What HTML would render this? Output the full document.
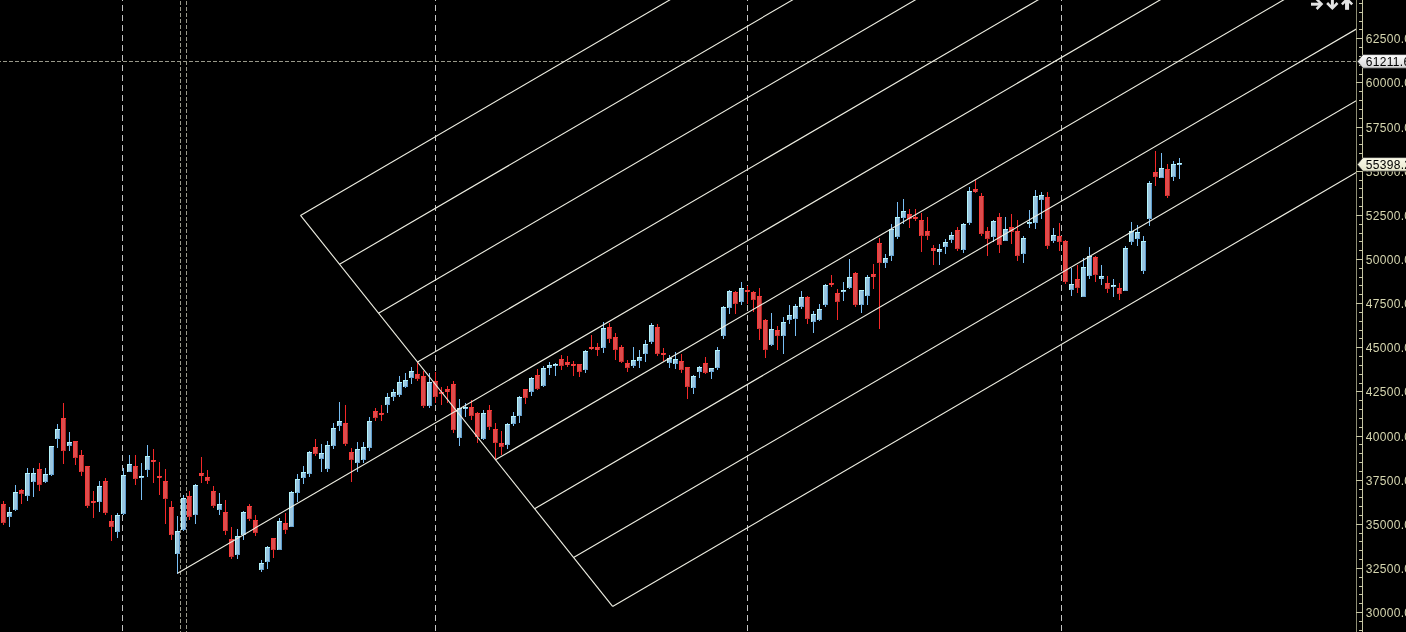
<!DOCTYPE html>
<html><head><meta charset="utf-8"><title>Chart</title>
<style>
html,body{margin:0;padding:0;background:#000;overflow:hidden}
body{width:1406px;height:632px;position:relative;font-family:"Liberation Sans",sans-serif}
svg{position:absolute;left:0;top:0;display:block}
.t{font-family:"Liberation Sans",sans-serif;font-size:12px;letter-spacing:0.326px}
</style></head><body>
<svg width="1406" height="632" viewBox="0 0 1406 632" style="will-change:transform">
<rect width="1406" height="632" fill="#000"/>
<defs><clipPath id="plot"><rect x="0" y="0" width="1356" height="632"/></clipPath>
<linearGradient id="gw" x1="0" y1="0" x2="0" y2="1"><stop offset="0" stop-color="#ffffff"/><stop offset="1" stop-color="#d4d4d4"/></linearGradient>
<linearGradient id="gy" x1="0" y1="0" x2="0" y2="1"><stop offset="0" stop-color="#fbfbea"/><stop offset="1" stop-color="#e6e6cc"/></linearGradient>
</defs>
<g shape-rendering="crispEdges" fill="none">
<line x1="122.5" y1="-5" x2="122.5" y2="632" stroke="#c4c4c4" stroke-width="1" stroke-dasharray="6 4"/>
<line x1="435.5" y1="-5" x2="435.5" y2="632" stroke="#c4c4c4" stroke-width="1" stroke-dasharray="6 4"/>
<line x1="747.5" y1="-5" x2="747.5" y2="632" stroke="#c4c4c4" stroke-width="1" stroke-dasharray="6 4"/>
<line x1="1061.5" y1="-5" x2="1061.5" y2="632" stroke="#c4c4c4" stroke-width="1" stroke-dasharray="6 4"/>
<line x1="180.5" y1="1" x2="180.5" y2="632" stroke="#99998a" stroke-width="1" stroke-dasharray="4 2"/>
<line x1="186.5" y1="1" x2="186.5" y2="632" stroke="#99998a" stroke-width="1" stroke-dasharray="4 2"/>
<line x1="-3" y1="61.5" x2="1356" y2="61.5" stroke="#99998a" stroke-width="1" stroke-dasharray="4 2"/>
</g>
<g shape-rendering="crispEdges">
<rect x="3" y="501" width="1" height="24" fill="#f42828"/><rect x="1" y="504" width="5" height="19" fill="#fa3838"/><rect x="2" y="505" width="4" height="18" fill="#dc4c4c"/><rect x="2" y="522" width="3" height="1" fill="#c43030"/><rect x="5" y="505" width="1" height="18" fill="#b02020"/>
<rect x="9" y="507" width="1" height="20" fill="#78bef4"/><rect x="7" y="512" width="5" height="5" fill="#b4f4fc"/><rect x="8" y="513" width="4" height="4" fill="#9ac6e0"/><rect x="8" y="516" width="3" height="1" fill="#6aa4d0"/><rect x="11" y="513" width="1" height="4" fill="#5c9acc"/>
<rect x="15" y="485" width="1" height="26" fill="#78bef4"/><rect x="13" y="492" width="5" height="18" fill="#b4f4fc"/><rect x="14" y="493" width="4" height="17" fill="#9ac6e0"/><rect x="14" y="509" width="3" height="1" fill="#6aa4d0"/><rect x="17" y="493" width="1" height="17" fill="#5c9acc"/>
<rect x="21" y="489" width="1" height="15" fill="#f42828"/><rect x="19" y="490" width="5" height="4" fill="#fa3838"/><rect x="20" y="491" width="4" height="3" fill="#dc4c4c"/><rect x="20" y="493" width="3" height="1" fill="#c43030"/><rect x="23" y="491" width="1" height="3" fill="#b02020"/>
<rect x="27" y="468" width="1" height="33" fill="#78bef4"/><rect x="25" y="473" width="5" height="23" fill="#b4f4fc"/><rect x="26" y="474" width="4" height="22" fill="#9ac6e0"/><rect x="26" y="495" width="3" height="1" fill="#6aa4d0"/><rect x="29" y="474" width="1" height="22" fill="#5c9acc"/>
<rect x="33" y="468" width="1" height="29" fill="#78bef4"/><rect x="31" y="473" width="5" height="9" fill="#b4f4fc"/><rect x="32" y="474" width="4" height="8" fill="#9ac6e0"/><rect x="32" y="481" width="3" height="1" fill="#6aa4d0"/><rect x="35" y="474" width="1" height="8" fill="#5c9acc"/>
<rect x="39" y="463" width="1" height="28" fill="#f42828"/><rect x="37" y="469" width="5" height="16" fill="#fa3838"/><rect x="38" y="470" width="4" height="15" fill="#dc4c4c"/><rect x="38" y="484" width="3" height="1" fill="#c43030"/><rect x="41" y="470" width="1" height="15" fill="#b02020"/>
<rect x="45" y="468" width="1" height="15" fill="#78bef4"/><rect x="43" y="474" width="5" height="8" fill="#b4f4fc"/><rect x="44" y="475" width="4" height="7" fill="#9ac6e0"/><rect x="44" y="481" width="3" height="1" fill="#6aa4d0"/><rect x="47" y="475" width="1" height="7" fill="#5c9acc"/>
<rect x="51" y="446" width="1" height="30" fill="#78bef4"/><rect x="49" y="446" width="5" height="29" fill="#b4f4fc"/><rect x="50" y="447" width="4" height="28" fill="#9ac6e0"/><rect x="50" y="474" width="3" height="1" fill="#6aa4d0"/><rect x="53" y="447" width="1" height="28" fill="#5c9acc"/>
<rect x="57" y="424" width="1" height="24" fill="#78bef4"/><rect x="55" y="429" width="5" height="10" fill="#b4f4fc"/><rect x="56" y="430" width="4" height="9" fill="#9ac6e0"/><rect x="56" y="438" width="3" height="1" fill="#6aa4d0"/><rect x="59" y="430" width="1" height="9" fill="#5c9acc"/>
<rect x="63" y="403" width="1" height="61" fill="#f42828"/><rect x="61" y="418" width="5" height="33" fill="#fa3838"/><rect x="62" y="419" width="4" height="32" fill="#dc4c4c"/><rect x="62" y="450" width="3" height="1" fill="#c43030"/><rect x="65" y="419" width="1" height="32" fill="#b02020"/>
<rect x="69" y="432" width="1" height="19" fill="#78bef4"/><rect x="67" y="442" width="5" height="4" fill="#b4f4fc"/><rect x="68" y="443" width="4" height="3" fill="#9ac6e0"/><rect x="68" y="445" width="3" height="1" fill="#6aa4d0"/><rect x="71" y="443" width="1" height="3" fill="#5c9acc"/>
<rect x="75" y="441" width="1" height="24" fill="#f42828"/><rect x="73" y="441" width="5" height="17" fill="#fa3838"/><rect x="74" y="442" width="4" height="16" fill="#dc4c4c"/><rect x="74" y="457" width="3" height="1" fill="#c43030"/><rect x="77" y="442" width="1" height="16" fill="#b02020"/>
<rect x="81" y="450" width="1" height="26" fill="#f42828"/><rect x="79" y="455" width="5" height="17" fill="#fa3838"/><rect x="80" y="456" width="4" height="16" fill="#dc4c4c"/><rect x="80" y="471" width="3" height="1" fill="#c43030"/><rect x="83" y="456" width="1" height="16" fill="#b02020"/>
<rect x="87" y="466" width="1" height="42" fill="#f42828"/><rect x="85" y="466" width="5" height="40" fill="#fa3838"/><rect x="86" y="467" width="4" height="39" fill="#dc4c4c"/><rect x="86" y="505" width="3" height="1" fill="#c43030"/><rect x="89" y="467" width="1" height="39" fill="#b02020"/>
<rect x="93" y="491" width="1" height="27" fill="#f42828"/><rect x="91" y="501" width="5" height="2" fill="#fa3838"/><rect x="92" y="502" width="4" height="1" fill="#dc4c4c"/><rect x="95" y="502" width="1" height="1" fill="#b02020"/>
<rect x="99" y="481" width="1" height="31" fill="#78bef4"/><rect x="97" y="486" width="5" height="16" fill="#b4f4fc"/><rect x="98" y="487" width="4" height="15" fill="#9ac6e0"/><rect x="98" y="501" width="3" height="1" fill="#6aa4d0"/><rect x="101" y="487" width="1" height="15" fill="#5c9acc"/>
<rect x="105" y="478" width="1" height="37" fill="#f42828"/><rect x="103" y="481" width="5" height="32" fill="#fa3838"/><rect x="104" y="482" width="4" height="31" fill="#dc4c4c"/><rect x="104" y="512" width="3" height="1" fill="#c43030"/><rect x="107" y="482" width="1" height="31" fill="#b02020"/>
<rect x="111" y="515" width="1" height="26" fill="#f42828"/><rect x="109" y="521" width="5" height="6" fill="#fa3838"/><rect x="110" y="522" width="4" height="5" fill="#dc4c4c"/><rect x="110" y="526" width="3" height="1" fill="#c43030"/><rect x="113" y="522" width="1" height="5" fill="#b02020"/>
<rect x="117" y="513" width="1" height="25" fill="#78bef4"/><rect x="115" y="515" width="5" height="17" fill="#b4f4fc"/><rect x="116" y="516" width="4" height="16" fill="#9ac6e0"/><rect x="116" y="531" width="3" height="1" fill="#6aa4d0"/><rect x="119" y="516" width="1" height="16" fill="#5c9acc"/>
<rect x="123" y="468" width="1" height="47" fill="#78bef4"/><rect x="121" y="475" width="5" height="39" fill="#b4f4fc"/><rect x="122" y="476" width="4" height="38" fill="#9ac6e0"/><rect x="122" y="513" width="3" height="1" fill="#6aa4d0"/><rect x="125" y="476" width="1" height="38" fill="#5c9acc"/>
<rect x="129" y="455" width="1" height="17" fill="#78bef4"/><rect x="127" y="464" width="5" height="8" fill="#b4f4fc"/><rect x="128" y="465" width="4" height="7" fill="#9ac6e0"/><rect x="128" y="471" width="3" height="1" fill="#6aa4d0"/><rect x="131" y="465" width="1" height="7" fill="#5c9acc"/>
<rect x="135" y="455" width="1" height="30" fill="#f42828"/><rect x="133" y="466" width="5" height="13" fill="#fa3838"/><rect x="134" y="467" width="4" height="12" fill="#dc4c4c"/><rect x="134" y="478" width="3" height="1" fill="#c43030"/><rect x="137" y="467" width="1" height="12" fill="#b02020"/>
<rect x="141" y="463" width="1" height="37" fill="#78bef4"/><rect x="139" y="476" width="5" height="2" fill="#b4f4fc"/><rect x="140" y="477" width="4" height="1" fill="#9ac6e0"/><rect x="143" y="477" width="1" height="1" fill="#5c9acc"/>
<rect x="147" y="445" width="1" height="32" fill="#78bef4"/><rect x="145" y="456" width="5" height="14" fill="#b4f4fc"/><rect x="146" y="457" width="4" height="13" fill="#9ac6e0"/><rect x="146" y="469" width="3" height="1" fill="#6aa4d0"/><rect x="149" y="457" width="1" height="13" fill="#5c9acc"/>
<rect x="153" y="449" width="1" height="34" fill="#f42828"/><rect x="151" y="460" width="5" height="2" fill="#fa3838"/><rect x="152" y="461" width="4" height="1" fill="#dc4c4c"/><rect x="155" y="461" width="1" height="1" fill="#b02020"/>
<rect x="159" y="462" width="1" height="33" fill="#f42828"/><rect x="157" y="476" width="5" height="2" fill="#fa3838"/><rect x="158" y="477" width="4" height="1" fill="#dc4c4c"/><rect x="161" y="477" width="1" height="1" fill="#b02020"/>
<rect x="165" y="469" width="1" height="55" fill="#f42828"/><rect x="163" y="481" width="5" height="18" fill="#fa3838"/><rect x="164" y="482" width="4" height="17" fill="#dc4c4c"/><rect x="164" y="498" width="3" height="1" fill="#c43030"/><rect x="167" y="482" width="1" height="17" fill="#b02020"/>
<rect x="171" y="501" width="1" height="39" fill="#f42828"/><rect x="169" y="507" width="5" height="28" fill="#fa3838"/><rect x="170" y="508" width="4" height="27" fill="#dc4c4c"/><rect x="170" y="534" width="3" height="1" fill="#c43030"/><rect x="173" y="508" width="1" height="27" fill="#b02020"/>
<rect x="177" y="516" width="1" height="58" fill="#78bef4"/><rect x="175" y="531" width="5" height="23" fill="#b4f4fc"/><rect x="176" y="532" width="4" height="22" fill="#9ac6e0"/><rect x="176" y="553" width="3" height="1" fill="#6aa4d0"/><rect x="179" y="532" width="1" height="22" fill="#5c9acc"/>
<rect x="183" y="495" width="1" height="36" fill="#78bef4"/><rect x="181" y="498" width="5" height="32" fill="#b4f4fc"/><rect x="182" y="499" width="4" height="31" fill="#9ac6e0"/><rect x="182" y="529" width="3" height="1" fill="#6aa4d0"/><rect x="185" y="499" width="1" height="31" fill="#5c9acc"/>
<rect x="189" y="491" width="1" height="29" fill="#f42828"/><rect x="187" y="496" width="5" height="21" fill="#fa3838"/><rect x="188" y="497" width="4" height="20" fill="#dc4c4c"/><rect x="188" y="516" width="3" height="1" fill="#c43030"/><rect x="191" y="497" width="1" height="20" fill="#b02020"/>
<rect x="195" y="484" width="1" height="40" fill="#78bef4"/><rect x="193" y="485" width="5" height="30" fill="#b4f4fc"/><rect x="194" y="486" width="4" height="29" fill="#9ac6e0"/><rect x="194" y="514" width="3" height="1" fill="#6aa4d0"/><rect x="197" y="486" width="1" height="29" fill="#5c9acc"/>
<rect x="201" y="457" width="1" height="26" fill="#f42828"/><rect x="199" y="473" width="5" height="3" fill="#fa3838"/><rect x="200" y="474" width="4" height="2" fill="#dc4c4c"/><rect x="203" y="474" width="1" height="2" fill="#b02020"/>
<rect x="207" y="470" width="1" height="14" fill="#f42828"/><rect x="205" y="477" width="5" height="4" fill="#fa3838"/><rect x="206" y="478" width="4" height="3" fill="#dc4c4c"/><rect x="206" y="480" width="3" height="1" fill="#c43030"/><rect x="209" y="478" width="1" height="3" fill="#b02020"/>
<rect x="213" y="486" width="1" height="22" fill="#f42828"/><rect x="211" y="491" width="5" height="15" fill="#fa3838"/><rect x="212" y="492" width="4" height="14" fill="#dc4c4c"/><rect x="212" y="505" width="3" height="1" fill="#c43030"/><rect x="215" y="492" width="1" height="14" fill="#b02020"/>
<rect x="219" y="493" width="1" height="22" fill="#78bef4"/><rect x="217" y="504" width="5" height="6" fill="#b4f4fc"/><rect x="218" y="505" width="4" height="5" fill="#9ac6e0"/><rect x="218" y="509" width="3" height="1" fill="#6aa4d0"/><rect x="221" y="505" width="1" height="5" fill="#5c9acc"/>
<rect x="225" y="500" width="1" height="35" fill="#f42828"/><rect x="223" y="512" width="5" height="19" fill="#fa3838"/><rect x="224" y="513" width="4" height="18" fill="#dc4c4c"/><rect x="224" y="530" width="3" height="1" fill="#c43030"/><rect x="227" y="513" width="1" height="18" fill="#b02020"/>
<rect x="231" y="527" width="1" height="32" fill="#f42828"/><rect x="229" y="539" width="5" height="18" fill="#fa3838"/><rect x="230" y="540" width="4" height="17" fill="#dc4c4c"/><rect x="230" y="556" width="3" height="1" fill="#c43030"/><rect x="233" y="540" width="1" height="17" fill="#b02020"/>
<rect x="237" y="529" width="1" height="30" fill="#78bef4"/><rect x="235" y="536" width="5" height="19" fill="#b4f4fc"/><rect x="236" y="537" width="4" height="18" fill="#9ac6e0"/><rect x="236" y="554" width="3" height="1" fill="#6aa4d0"/><rect x="239" y="537" width="1" height="18" fill="#5c9acc"/>
<rect x="243" y="511" width="1" height="29" fill="#78bef4"/><rect x="241" y="512" width="5" height="23" fill="#b4f4fc"/><rect x="242" y="513" width="4" height="22" fill="#9ac6e0"/><rect x="242" y="534" width="3" height="1" fill="#6aa4d0"/><rect x="245" y="513" width="1" height="22" fill="#5c9acc"/>
<rect x="249" y="504" width="1" height="17" fill="#f42828"/><rect x="247" y="506" width="5" height="13" fill="#fa3838"/><rect x="248" y="507" width="4" height="12" fill="#dc4c4c"/><rect x="248" y="518" width="3" height="1" fill="#c43030"/><rect x="251" y="507" width="1" height="12" fill="#b02020"/>
<rect x="255" y="515" width="1" height="21" fill="#f42828"/><rect x="253" y="520" width="5" height="13" fill="#fa3838"/><rect x="254" y="521" width="4" height="12" fill="#dc4c4c"/><rect x="254" y="532" width="3" height="1" fill="#c43030"/><rect x="257" y="521" width="1" height="12" fill="#b02020"/>
<rect x="261" y="560" width="1" height="12" fill="#78bef4"/><rect x="259" y="563" width="5" height="7" fill="#b4f4fc"/><rect x="260" y="564" width="4" height="6" fill="#9ac6e0"/><rect x="260" y="569" width="3" height="1" fill="#6aa4d0"/><rect x="263" y="564" width="1" height="6" fill="#5c9acc"/>
<rect x="267" y="546" width="1" height="23" fill="#78bef4"/><rect x="265" y="547" width="5" height="15" fill="#b4f4fc"/><rect x="266" y="548" width="4" height="14" fill="#9ac6e0"/><rect x="266" y="561" width="3" height="1" fill="#6aa4d0"/><rect x="269" y="548" width="1" height="14" fill="#5c9acc"/>
<rect x="273" y="538" width="1" height="20" fill="#f42828"/><rect x="271" y="538" width="5" height="12" fill="#fa3838"/><rect x="272" y="539" width="4" height="11" fill="#dc4c4c"/><rect x="272" y="549" width="3" height="1" fill="#c43030"/><rect x="275" y="539" width="1" height="11" fill="#b02020"/>
<rect x="279" y="518" width="1" height="32" fill="#78bef4"/><rect x="277" y="521" width="5" height="29" fill="#b4f4fc"/><rect x="278" y="522" width="4" height="28" fill="#9ac6e0"/><rect x="278" y="549" width="3" height="1" fill="#6aa4d0"/><rect x="281" y="522" width="1" height="28" fill="#5c9acc"/>
<rect x="285" y="513" width="1" height="21" fill="#f42828"/><rect x="283" y="523" width="5" height="7" fill="#fa3838"/><rect x="284" y="524" width="4" height="6" fill="#dc4c4c"/><rect x="284" y="529" width="3" height="1" fill="#c43030"/><rect x="287" y="524" width="1" height="6" fill="#b02020"/>
<rect x="291" y="491" width="1" height="36" fill="#78bef4"/><rect x="289" y="492" width="5" height="35" fill="#b4f4fc"/><rect x="290" y="493" width="4" height="34" fill="#9ac6e0"/><rect x="290" y="526" width="3" height="1" fill="#6aa4d0"/><rect x="293" y="493" width="1" height="34" fill="#5c9acc"/>
<rect x="297" y="474" width="1" height="28" fill="#78bef4"/><rect x="295" y="479" width="5" height="14" fill="#b4f4fc"/><rect x="296" y="480" width="4" height="13" fill="#9ac6e0"/><rect x="296" y="492" width="3" height="1" fill="#6aa4d0"/><rect x="299" y="480" width="1" height="13" fill="#5c9acc"/>
<rect x="303" y="466" width="1" height="18" fill="#78bef4"/><rect x="301" y="472" width="5" height="6" fill="#b4f4fc"/><rect x="302" y="473" width="4" height="5" fill="#9ac6e0"/><rect x="302" y="477" width="3" height="1" fill="#6aa4d0"/><rect x="305" y="473" width="1" height="5" fill="#5c9acc"/>
<rect x="309" y="451" width="1" height="26" fill="#78bef4"/><rect x="307" y="452" width="5" height="22" fill="#b4f4fc"/><rect x="308" y="453" width="4" height="21" fill="#9ac6e0"/><rect x="308" y="473" width="3" height="1" fill="#6aa4d0"/><rect x="311" y="453" width="1" height="21" fill="#5c9acc"/>
<rect x="315" y="439" width="1" height="17" fill="#f42828"/><rect x="313" y="447" width="5" height="7" fill="#fa3838"/><rect x="314" y="448" width="4" height="6" fill="#dc4c4c"/><rect x="314" y="453" width="3" height="1" fill="#c43030"/><rect x="317" y="448" width="1" height="6" fill="#b02020"/>
<rect x="321" y="444" width="1" height="28" fill="#78bef4"/><rect x="319" y="453" width="5" height="6" fill="#b4f4fc"/><rect x="320" y="454" width="4" height="5" fill="#9ac6e0"/><rect x="320" y="458" width="3" height="1" fill="#6aa4d0"/><rect x="323" y="454" width="1" height="5" fill="#5c9acc"/>
<rect x="327" y="441" width="1" height="31" fill="#78bef4"/><rect x="325" y="445" width="5" height="24" fill="#b4f4fc"/><rect x="326" y="446" width="4" height="23" fill="#9ac6e0"/><rect x="326" y="468" width="3" height="1" fill="#6aa4d0"/><rect x="329" y="446" width="1" height="23" fill="#5c9acc"/>
<rect x="333" y="423" width="1" height="26" fill="#78bef4"/><rect x="331" y="428" width="5" height="18" fill="#b4f4fc"/><rect x="332" y="429" width="4" height="17" fill="#9ac6e0"/><rect x="332" y="445" width="3" height="1" fill="#6aa4d0"/><rect x="335" y="429" width="1" height="17" fill="#5c9acc"/>
<rect x="339" y="402" width="1" height="29" fill="#78bef4"/><rect x="337" y="421" width="5" height="5" fill="#b4f4fc"/><rect x="338" y="422" width="4" height="4" fill="#9ac6e0"/><rect x="338" y="425" width="3" height="1" fill="#6aa4d0"/><rect x="341" y="422" width="1" height="4" fill="#5c9acc"/>
<rect x="345" y="405" width="1" height="41" fill="#f42828"/><rect x="343" y="423" width="5" height="21" fill="#fa3838"/><rect x="344" y="424" width="4" height="20" fill="#dc4c4c"/><rect x="344" y="443" width="3" height="1" fill="#c43030"/><rect x="347" y="424" width="1" height="20" fill="#b02020"/>
<rect x="351" y="448" width="1" height="34" fill="#f42828"/><rect x="349" y="452" width="5" height="8" fill="#fa3838"/><rect x="350" y="453" width="4" height="7" fill="#dc4c4c"/><rect x="350" y="459" width="3" height="1" fill="#c43030"/><rect x="353" y="453" width="1" height="7" fill="#b02020"/>
<rect x="357" y="442" width="1" height="30" fill="#78bef4"/><rect x="355" y="449" width="5" height="14" fill="#b4f4fc"/><rect x="356" y="450" width="4" height="13" fill="#9ac6e0"/><rect x="356" y="462" width="3" height="1" fill="#6aa4d0"/><rect x="359" y="450" width="1" height="13" fill="#5c9acc"/>
<rect x="363" y="442" width="1" height="21" fill="#78bef4"/><rect x="361" y="447" width="5" height="13" fill="#b4f4fc"/><rect x="362" y="448" width="4" height="12" fill="#9ac6e0"/><rect x="362" y="459" width="3" height="1" fill="#6aa4d0"/><rect x="365" y="448" width="1" height="12" fill="#5c9acc"/>
<rect x="369" y="417" width="1" height="34" fill="#78bef4"/><rect x="367" y="421" width="5" height="27" fill="#b4f4fc"/><rect x="368" y="422" width="4" height="26" fill="#9ac6e0"/><rect x="368" y="447" width="3" height="1" fill="#6aa4d0"/><rect x="371" y="422" width="1" height="26" fill="#5c9acc"/>
<rect x="375" y="408" width="1" height="13" fill="#f42828"/><rect x="373" y="411" width="5" height="7" fill="#fa3838"/><rect x="374" y="412" width="4" height="6" fill="#dc4c4c"/><rect x="374" y="417" width="3" height="1" fill="#c43030"/><rect x="377" y="412" width="1" height="6" fill="#b02020"/>
<rect x="381" y="405" width="1" height="16" fill="#f42828"/><rect x="379" y="413" width="5" height="2" fill="#fa3838"/><rect x="380" y="414" width="4" height="1" fill="#dc4c4c"/><rect x="383" y="414" width="1" height="1" fill="#b02020"/>
<rect x="387" y="393" width="1" height="20" fill="#78bef4"/><rect x="385" y="397" width="5" height="8" fill="#b4f4fc"/><rect x="386" y="398" width="4" height="7" fill="#9ac6e0"/><rect x="386" y="404" width="3" height="1" fill="#6aa4d0"/><rect x="389" y="398" width="1" height="7" fill="#5c9acc"/>
<rect x="393" y="389" width="1" height="12" fill="#78bef4"/><rect x="391" y="392" width="5" height="5" fill="#b4f4fc"/><rect x="392" y="393" width="4" height="4" fill="#9ac6e0"/><rect x="392" y="396" width="3" height="1" fill="#6aa4d0"/><rect x="395" y="393" width="1" height="4" fill="#5c9acc"/>
<rect x="399" y="376" width="1" height="21" fill="#78bef4"/><rect x="397" y="382" width="5" height="13" fill="#b4f4fc"/><rect x="398" y="383" width="4" height="12" fill="#9ac6e0"/><rect x="398" y="394" width="3" height="1" fill="#6aa4d0"/><rect x="401" y="383" width="1" height="12" fill="#5c9acc"/>
<rect x="405" y="373" width="1" height="15" fill="#78bef4"/><rect x="403" y="380" width="5" height="7" fill="#b4f4fc"/><rect x="404" y="381" width="4" height="6" fill="#9ac6e0"/><rect x="404" y="386" width="3" height="1" fill="#6aa4d0"/><rect x="407" y="381" width="1" height="6" fill="#5c9acc"/>
<rect x="411" y="367" width="1" height="17" fill="#78bef4"/><rect x="409" y="371" width="5" height="7" fill="#b4f4fc"/><rect x="410" y="372" width="4" height="6" fill="#9ac6e0"/><rect x="410" y="377" width="3" height="1" fill="#6aa4d0"/><rect x="413" y="372" width="1" height="6" fill="#5c9acc"/>
<rect x="417" y="362" width="1" height="19" fill="#f42828"/><rect x="415" y="374" width="5" height="5" fill="#fa3838"/><rect x="416" y="375" width="4" height="4" fill="#dc4c4c"/><rect x="416" y="378" width="3" height="1" fill="#c43030"/><rect x="419" y="375" width="1" height="4" fill="#b02020"/>
<rect x="423" y="371" width="1" height="37" fill="#f42828"/><rect x="421" y="376" width="5" height="30" fill="#fa3838"/><rect x="422" y="377" width="4" height="29" fill="#dc4c4c"/><rect x="422" y="405" width="3" height="1" fill="#c43030"/><rect x="425" y="377" width="1" height="29" fill="#b02020"/>
<rect x="429" y="373" width="1" height="35" fill="#78bef4"/><rect x="427" y="382" width="5" height="24" fill="#b4f4fc"/><rect x="428" y="383" width="4" height="23" fill="#9ac6e0"/><rect x="428" y="405" width="3" height="1" fill="#6aa4d0"/><rect x="431" y="383" width="1" height="23" fill="#5c9acc"/>
<rect x="435" y="372" width="1" height="31" fill="#f42828"/><rect x="433" y="381" width="5" height="16" fill="#fa3838"/><rect x="434" y="382" width="4" height="15" fill="#dc4c4c"/><rect x="434" y="396" width="3" height="1" fill="#c43030"/><rect x="437" y="382" width="1" height="15" fill="#b02020"/>
<rect x="441" y="387" width="1" height="18" fill="#f42828"/><rect x="439" y="392" width="5" height="2" fill="#fa3838"/><rect x="440" y="393" width="4" height="1" fill="#dc4c4c"/><rect x="443" y="393" width="1" height="1" fill="#b02020"/>
<rect x="447" y="386" width="1" height="17" fill="#f42828"/><rect x="445" y="389" width="5" height="3" fill="#fa3838"/><rect x="446" y="390" width="4" height="2" fill="#dc4c4c"/><rect x="449" y="390" width="1" height="2" fill="#b02020"/>
<rect x="453" y="381" width="1" height="52" fill="#f42828"/><rect x="451" y="384" width="5" height="46" fill="#fa3838"/><rect x="452" y="385" width="4" height="45" fill="#dc4c4c"/><rect x="452" y="429" width="3" height="1" fill="#c43030"/><rect x="455" y="385" width="1" height="45" fill="#b02020"/>
<rect x="459" y="399" width="1" height="47" fill="#78bef4"/><rect x="457" y="408" width="5" height="30" fill="#b4f4fc"/><rect x="458" y="409" width="4" height="29" fill="#9ac6e0"/><rect x="458" y="437" width="3" height="1" fill="#6aa4d0"/><rect x="461" y="409" width="1" height="29" fill="#5c9acc"/>
<rect x="465" y="403" width="1" height="14" fill="#78bef4"/><rect x="463" y="407" width="5" height="2" fill="#b4f4fc"/><rect x="464" y="408" width="4" height="1" fill="#9ac6e0"/><rect x="467" y="408" width="1" height="1" fill="#5c9acc"/>
<rect x="471" y="400" width="1" height="20" fill="#f42828"/><rect x="469" y="407" width="5" height="9" fill="#fa3838"/><rect x="470" y="408" width="4" height="8" fill="#dc4c4c"/><rect x="470" y="415" width="3" height="1" fill="#c43030"/><rect x="473" y="408" width="1" height="8" fill="#b02020"/>
<rect x="477" y="412" width="1" height="31" fill="#f42828"/><rect x="475" y="413" width="5" height="24" fill="#fa3838"/><rect x="476" y="414" width="4" height="23" fill="#dc4c4c"/><rect x="476" y="436" width="3" height="1" fill="#c43030"/><rect x="479" y="414" width="1" height="23" fill="#b02020"/>
<rect x="483" y="410" width="1" height="30" fill="#78bef4"/><rect x="481" y="413" width="5" height="26" fill="#b4f4fc"/><rect x="482" y="414" width="4" height="25" fill="#9ac6e0"/><rect x="482" y="438" width="3" height="1" fill="#6aa4d0"/><rect x="485" y="414" width="1" height="25" fill="#5c9acc"/>
<rect x="489" y="405" width="1" height="25" fill="#f42828"/><rect x="487" y="410" width="5" height="17" fill="#fa3838"/><rect x="488" y="411" width="4" height="16" fill="#dc4c4c"/><rect x="488" y="426" width="3" height="1" fill="#c43030"/><rect x="491" y="411" width="1" height="16" fill="#b02020"/>
<rect x="495" y="423" width="1" height="36" fill="#f42828"/><rect x="493" y="429" width="5" height="14" fill="#fa3838"/><rect x="494" y="430" width="4" height="13" fill="#dc4c4c"/><rect x="494" y="442" width="3" height="1" fill="#c43030"/><rect x="497" y="430" width="1" height="13" fill="#b02020"/>
<rect x="501" y="431" width="1" height="24" fill="#f42828"/><rect x="499" y="443" width="5" height="4" fill="#fa3838"/><rect x="500" y="444" width="4" height="3" fill="#dc4c4c"/><rect x="500" y="446" width="3" height="1" fill="#c43030"/><rect x="503" y="444" width="1" height="3" fill="#b02020"/>
<rect x="507" y="423" width="1" height="26" fill="#78bef4"/><rect x="505" y="424" width="5" height="21" fill="#b4f4fc"/><rect x="506" y="425" width="4" height="20" fill="#9ac6e0"/><rect x="506" y="444" width="3" height="1" fill="#6aa4d0"/><rect x="509" y="425" width="1" height="20" fill="#5c9acc"/>
<rect x="513" y="412" width="1" height="14" fill="#78bef4"/><rect x="511" y="416" width="5" height="8" fill="#b4f4fc"/><rect x="512" y="417" width="4" height="7" fill="#9ac6e0"/><rect x="512" y="423" width="3" height="1" fill="#6aa4d0"/><rect x="515" y="417" width="1" height="7" fill="#5c9acc"/>
<rect x="519" y="396" width="1" height="27" fill="#78bef4"/><rect x="517" y="397" width="5" height="19" fill="#b4f4fc"/><rect x="518" y="398" width="4" height="18" fill="#9ac6e0"/><rect x="518" y="415" width="3" height="1" fill="#6aa4d0"/><rect x="521" y="398" width="1" height="18" fill="#5c9acc"/>
<rect x="525" y="389" width="1" height="15" fill="#f42828"/><rect x="523" y="389" width="5" height="9" fill="#fa3838"/><rect x="524" y="390" width="4" height="8" fill="#dc4c4c"/><rect x="524" y="397" width="3" height="1" fill="#c43030"/><rect x="527" y="390" width="1" height="8" fill="#b02020"/>
<rect x="531" y="377" width="1" height="19" fill="#78bef4"/><rect x="529" y="378" width="5" height="14" fill="#b4f4fc"/><rect x="530" y="379" width="4" height="13" fill="#9ac6e0"/><rect x="530" y="391" width="3" height="1" fill="#6aa4d0"/><rect x="533" y="379" width="1" height="13" fill="#5c9acc"/>
<rect x="537" y="369" width="1" height="21" fill="#f42828"/><rect x="535" y="375" width="5" height="14" fill="#fa3838"/><rect x="536" y="376" width="4" height="13" fill="#dc4c4c"/><rect x="536" y="388" width="3" height="1" fill="#c43030"/><rect x="539" y="376" width="1" height="13" fill="#b02020"/>
<rect x="543" y="366" width="1" height="21" fill="#78bef4"/><rect x="541" y="368" width="5" height="18" fill="#b4f4fc"/><rect x="542" y="369" width="4" height="17" fill="#9ac6e0"/><rect x="542" y="385" width="3" height="1" fill="#6aa4d0"/><rect x="545" y="369" width="1" height="17" fill="#5c9acc"/>
<rect x="549" y="362" width="1" height="13" fill="#78bef4"/><rect x="547" y="365" width="5" height="3" fill="#b4f4fc"/><rect x="548" y="366" width="4" height="2" fill="#9ac6e0"/><rect x="551" y="366" width="1" height="2" fill="#5c9acc"/>
<rect x="555" y="363" width="1" height="13" fill="#78bef4"/><rect x="553" y="364" width="5" height="2" fill="#b4f4fc"/><rect x="554" y="365" width="4" height="1" fill="#9ac6e0"/><rect x="557" y="365" width="1" height="1" fill="#5c9acc"/>
<rect x="561" y="355" width="1" height="15" fill="#f42828"/><rect x="559" y="359" width="5" height="7" fill="#fa3838"/><rect x="560" y="360" width="4" height="6" fill="#dc4c4c"/><rect x="560" y="365" width="3" height="1" fill="#c43030"/><rect x="563" y="360" width="1" height="6" fill="#b02020"/>
<rect x="567" y="356" width="1" height="11" fill="#f42828"/><rect x="565" y="362" width="5" height="3" fill="#fa3838"/><rect x="566" y="363" width="4" height="2" fill="#dc4c4c"/><rect x="569" y="363" width="1" height="2" fill="#b02020"/>
<rect x="573" y="361" width="1" height="15" fill="#f42828"/><rect x="571" y="364" width="5" height="2" fill="#fa3838"/><rect x="572" y="365" width="4" height="1" fill="#dc4c4c"/><rect x="575" y="365" width="1" height="1" fill="#b02020"/>
<rect x="579" y="364" width="1" height="13" fill="#f42828"/><rect x="577" y="364" width="5" height="8" fill="#fa3838"/><rect x="578" y="365" width="4" height="7" fill="#dc4c4c"/><rect x="578" y="371" width="3" height="1" fill="#c43030"/><rect x="581" y="365" width="1" height="7" fill="#b02020"/>
<rect x="585" y="350" width="1" height="23" fill="#78bef4"/><rect x="583" y="351" width="5" height="19" fill="#b4f4fc"/><rect x="584" y="352" width="4" height="18" fill="#9ac6e0"/><rect x="584" y="369" width="3" height="1" fill="#6aa4d0"/><rect x="587" y="352" width="1" height="18" fill="#5c9acc"/>
<rect x="591" y="335" width="1" height="15" fill="#f42828"/><rect x="589" y="347" width="5" height="2" fill="#fa3838"/><rect x="590" y="348" width="4" height="1" fill="#dc4c4c"/><rect x="593" y="348" width="1" height="1" fill="#b02020"/>
<rect x="597" y="343" width="1" height="13" fill="#f42828"/><rect x="595" y="347" width="5" height="3" fill="#fa3838"/><rect x="596" y="348" width="4" height="2" fill="#dc4c4c"/><rect x="599" y="348" width="1" height="2" fill="#b02020"/>
<rect x="603" y="322" width="1" height="31" fill="#78bef4"/><rect x="601" y="328" width="5" height="20" fill="#b4f4fc"/><rect x="602" y="329" width="4" height="19" fill="#9ac6e0"/><rect x="602" y="347" width="3" height="1" fill="#6aa4d0"/><rect x="605" y="329" width="1" height="19" fill="#5c9acc"/>
<rect x="609" y="323" width="1" height="20" fill="#f42828"/><rect x="607" y="327" width="5" height="12" fill="#fa3838"/><rect x="608" y="328" width="4" height="11" fill="#dc4c4c"/><rect x="608" y="338" width="3" height="1" fill="#c43030"/><rect x="611" y="328" width="1" height="11" fill="#b02020"/>
<rect x="615" y="333" width="1" height="27" fill="#f42828"/><rect x="613" y="337" width="5" height="13" fill="#fa3838"/><rect x="614" y="338" width="4" height="12" fill="#dc4c4c"/><rect x="614" y="349" width="3" height="1" fill="#c43030"/><rect x="617" y="338" width="1" height="12" fill="#b02020"/>
<rect x="621" y="345" width="1" height="18" fill="#f42828"/><rect x="619" y="347" width="5" height="15" fill="#fa3838"/><rect x="620" y="348" width="4" height="14" fill="#dc4c4c"/><rect x="620" y="361" width="3" height="1" fill="#c43030"/><rect x="623" y="348" width="1" height="14" fill="#b02020"/>
<rect x="627" y="360" width="1" height="12" fill="#f42828"/><rect x="625" y="363" width="5" height="5" fill="#fa3838"/><rect x="626" y="364" width="4" height="4" fill="#dc4c4c"/><rect x="626" y="367" width="3" height="1" fill="#c43030"/><rect x="629" y="364" width="1" height="4" fill="#b02020"/>
<rect x="633" y="347" width="1" height="21" fill="#78bef4"/><rect x="631" y="360" width="5" height="6" fill="#b4f4fc"/><rect x="632" y="361" width="4" height="5" fill="#9ac6e0"/><rect x="632" y="365" width="3" height="1" fill="#6aa4d0"/><rect x="635" y="361" width="1" height="5" fill="#5c9acc"/>
<rect x="639" y="350" width="1" height="18" fill="#78bef4"/><rect x="637" y="357" width="5" height="4" fill="#b4f4fc"/><rect x="638" y="358" width="4" height="3" fill="#9ac6e0"/><rect x="638" y="360" width="3" height="1" fill="#6aa4d0"/><rect x="641" y="358" width="1" height="3" fill="#5c9acc"/>
<rect x="645" y="340" width="1" height="22" fill="#78bef4"/><rect x="643" y="344" width="5" height="10" fill="#b4f4fc"/><rect x="644" y="345" width="4" height="9" fill="#9ac6e0"/><rect x="644" y="353" width="3" height="1" fill="#6aa4d0"/><rect x="647" y="345" width="1" height="9" fill="#5c9acc"/>
<rect x="651" y="323" width="1" height="21" fill="#78bef4"/><rect x="649" y="325" width="5" height="17" fill="#b4f4fc"/><rect x="650" y="326" width="4" height="16" fill="#9ac6e0"/><rect x="650" y="341" width="3" height="1" fill="#6aa4d0"/><rect x="653" y="326" width="1" height="16" fill="#5c9acc"/>
<rect x="657" y="324" width="1" height="32" fill="#f42828"/><rect x="655" y="327" width="5" height="27" fill="#fa3838"/><rect x="656" y="328" width="4" height="26" fill="#dc4c4c"/><rect x="656" y="353" width="3" height="1" fill="#c43030"/><rect x="659" y="328" width="1" height="26" fill="#b02020"/>
<rect x="663" y="348" width="1" height="13" fill="#f42828"/><rect x="661" y="353" width="5" height="2" fill="#fa3838"/><rect x="662" y="354" width="4" height="1" fill="#dc4c4c"/><rect x="665" y="354" width="1" height="1" fill="#b02020"/>
<rect x="669" y="355" width="1" height="13" fill="#78bef4"/><rect x="667" y="358" width="5" height="5" fill="#b4f4fc"/><rect x="668" y="359" width="4" height="4" fill="#9ac6e0"/><rect x="668" y="362" width="3" height="1" fill="#6aa4d0"/><rect x="671" y="359" width="1" height="4" fill="#5c9acc"/>
<rect x="675" y="352" width="1" height="17" fill="#78bef4"/><rect x="673" y="359" width="5" height="5" fill="#b4f4fc"/><rect x="674" y="360" width="4" height="4" fill="#9ac6e0"/><rect x="674" y="363" width="3" height="1" fill="#6aa4d0"/><rect x="677" y="360" width="1" height="4" fill="#5c9acc"/>
<rect x="681" y="354" width="1" height="19" fill="#f42828"/><rect x="679" y="361" width="5" height="9" fill="#fa3838"/><rect x="680" y="362" width="4" height="8" fill="#dc4c4c"/><rect x="680" y="369" width="3" height="1" fill="#c43030"/><rect x="683" y="362" width="1" height="8" fill="#b02020"/>
<rect x="687" y="367" width="1" height="32" fill="#f42828"/><rect x="685" y="367" width="5" height="20" fill="#fa3838"/><rect x="686" y="368" width="4" height="19" fill="#dc4c4c"/><rect x="686" y="386" width="3" height="1" fill="#c43030"/><rect x="689" y="368" width="1" height="19" fill="#b02020"/>
<rect x="693" y="375" width="1" height="19" fill="#78bef4"/><rect x="691" y="376" width="5" height="12" fill="#b4f4fc"/><rect x="692" y="377" width="4" height="11" fill="#9ac6e0"/><rect x="692" y="387" width="3" height="1" fill="#6aa4d0"/><rect x="695" y="377" width="1" height="11" fill="#5c9acc"/>
<rect x="699" y="366" width="1" height="12" fill="#78bef4"/><rect x="697" y="367" width="5" height="5" fill="#b4f4fc"/><rect x="698" y="368" width="4" height="4" fill="#9ac6e0"/><rect x="698" y="371" width="3" height="1" fill="#6aa4d0"/><rect x="701" y="368" width="1" height="4" fill="#5c9acc"/>
<rect x="705" y="357" width="1" height="17" fill="#f42828"/><rect x="703" y="363" width="5" height="10" fill="#fa3838"/><rect x="704" y="364" width="4" height="9" fill="#dc4c4c"/><rect x="704" y="372" width="3" height="1" fill="#c43030"/><rect x="707" y="364" width="1" height="9" fill="#b02020"/>
<rect x="711" y="368" width="1" height="11" fill="#78bef4"/><rect x="709" y="368" width="5" height="4" fill="#b4f4fc"/><rect x="710" y="369" width="4" height="3" fill="#9ac6e0"/><rect x="710" y="371" width="3" height="1" fill="#6aa4d0"/><rect x="713" y="369" width="1" height="3" fill="#5c9acc"/>
<rect x="717" y="347" width="1" height="23" fill="#78bef4"/><rect x="715" y="350" width="5" height="18" fill="#b4f4fc"/><rect x="716" y="351" width="4" height="17" fill="#9ac6e0"/><rect x="716" y="367" width="3" height="1" fill="#6aa4d0"/><rect x="719" y="351" width="1" height="17" fill="#5c9acc"/>
<rect x="723" y="306" width="1" height="33" fill="#78bef4"/><rect x="721" y="307" width="5" height="29" fill="#b4f4fc"/><rect x="722" y="308" width="4" height="28" fill="#9ac6e0"/><rect x="722" y="335" width="3" height="1" fill="#6aa4d0"/><rect x="725" y="308" width="1" height="28" fill="#5c9acc"/>
<rect x="729" y="290" width="1" height="24" fill="#78bef4"/><rect x="727" y="291" width="5" height="17" fill="#b4f4fc"/><rect x="728" y="292" width="4" height="16" fill="#9ac6e0"/><rect x="728" y="307" width="3" height="1" fill="#6aa4d0"/><rect x="731" y="292" width="1" height="16" fill="#5c9acc"/>
<rect x="735" y="291" width="1" height="23" fill="#f42828"/><rect x="733" y="292" width="5" height="12" fill="#fa3838"/><rect x="734" y="293" width="4" height="11" fill="#dc4c4c"/><rect x="734" y="303" width="3" height="1" fill="#c43030"/><rect x="737" y="293" width="1" height="11" fill="#b02020"/>
<rect x="741" y="282" width="1" height="23" fill="#78bef4"/><rect x="739" y="288" width="5" height="14" fill="#b4f4fc"/><rect x="740" y="289" width="4" height="13" fill="#9ac6e0"/><rect x="740" y="301" width="3" height="1" fill="#6aa4d0"/><rect x="743" y="289" width="1" height="13" fill="#5c9acc"/>
<rect x="747" y="286" width="1" height="18" fill="#f42828"/><rect x="745" y="290" width="5" height="2" fill="#fa3838"/><rect x="746" y="291" width="4" height="1" fill="#dc4c4c"/><rect x="749" y="291" width="1" height="1" fill="#b02020"/>
<rect x="753" y="291" width="1" height="21" fill="#f42828"/><rect x="751" y="292" width="5" height="8" fill="#fa3838"/><rect x="752" y="293" width="4" height="7" fill="#dc4c4c"/><rect x="752" y="299" width="3" height="1" fill="#c43030"/><rect x="755" y="293" width="1" height="7" fill="#b02020"/>
<rect x="759" y="288" width="1" height="52" fill="#f42828"/><rect x="757" y="296" width="5" height="33" fill="#fa3838"/><rect x="758" y="297" width="4" height="32" fill="#dc4c4c"/><rect x="758" y="328" width="3" height="1" fill="#c43030"/><rect x="761" y="297" width="1" height="32" fill="#b02020"/>
<rect x="765" y="319" width="1" height="39" fill="#f42828"/><rect x="763" y="320" width="5" height="30" fill="#fa3838"/><rect x="764" y="321" width="4" height="29" fill="#dc4c4c"/><rect x="764" y="349" width="3" height="1" fill="#c43030"/><rect x="767" y="321" width="1" height="29" fill="#b02020"/>
<rect x="771" y="313" width="1" height="33" fill="#78bef4"/><rect x="769" y="329" width="5" height="16" fill="#b4f4fc"/><rect x="770" y="330" width="4" height="15" fill="#9ac6e0"/><rect x="770" y="344" width="3" height="1" fill="#6aa4d0"/><rect x="773" y="330" width="1" height="15" fill="#5c9acc"/>
<rect x="777" y="326" width="1" height="24" fill="#f42828"/><rect x="775" y="330" width="5" height="6" fill="#fa3838"/><rect x="776" y="331" width="4" height="5" fill="#dc4c4c"/><rect x="776" y="335" width="3" height="1" fill="#c43030"/><rect x="779" y="331" width="1" height="5" fill="#b02020"/>
<rect x="783" y="317" width="1" height="37" fill="#78bef4"/><rect x="781" y="322" width="5" height="14" fill="#b4f4fc"/><rect x="782" y="323" width="4" height="13" fill="#9ac6e0"/><rect x="782" y="335" width="3" height="1" fill="#6aa4d0"/><rect x="785" y="323" width="1" height="13" fill="#5c9acc"/>
<rect x="789" y="305" width="1" height="19" fill="#78bef4"/><rect x="787" y="315" width="5" height="5" fill="#b4f4fc"/><rect x="788" y="316" width="4" height="4" fill="#9ac6e0"/><rect x="788" y="319" width="3" height="1" fill="#6aa4d0"/><rect x="791" y="316" width="1" height="4" fill="#5c9acc"/>
<rect x="795" y="304" width="1" height="32" fill="#78bef4"/><rect x="793" y="306" width="5" height="13" fill="#b4f4fc"/><rect x="794" y="307" width="4" height="12" fill="#9ac6e0"/><rect x="794" y="318" width="3" height="1" fill="#6aa4d0"/><rect x="797" y="307" width="1" height="12" fill="#5c9acc"/>
<rect x="801" y="291" width="1" height="18" fill="#78bef4"/><rect x="799" y="297" width="5" height="10" fill="#b4f4fc"/><rect x="800" y="298" width="4" height="9" fill="#9ac6e0"/><rect x="800" y="306" width="3" height="1" fill="#6aa4d0"/><rect x="803" y="298" width="1" height="9" fill="#5c9acc"/>
<rect x="807" y="296" width="1" height="28" fill="#f42828"/><rect x="805" y="297" width="5" height="22" fill="#fa3838"/><rect x="806" y="298" width="4" height="21" fill="#dc4c4c"/><rect x="806" y="318" width="3" height="1" fill="#c43030"/><rect x="809" y="298" width="1" height="21" fill="#b02020"/>
<rect x="813" y="311" width="1" height="22" fill="#78bef4"/><rect x="811" y="314" width="5" height="8" fill="#b4f4fc"/><rect x="812" y="315" width="4" height="7" fill="#9ac6e0"/><rect x="812" y="321" width="3" height="1" fill="#6aa4d0"/><rect x="815" y="315" width="1" height="7" fill="#5c9acc"/>
<rect x="819" y="304" width="1" height="17" fill="#78bef4"/><rect x="817" y="309" width="5" height="11" fill="#b4f4fc"/><rect x="818" y="310" width="4" height="10" fill="#9ac6e0"/><rect x="818" y="319" width="3" height="1" fill="#6aa4d0"/><rect x="821" y="310" width="1" height="10" fill="#5c9acc"/>
<rect x="825" y="284" width="1" height="23" fill="#78bef4"/><rect x="823" y="285" width="5" height="20" fill="#b4f4fc"/><rect x="824" y="286" width="4" height="19" fill="#9ac6e0"/><rect x="824" y="304" width="3" height="1" fill="#6aa4d0"/><rect x="827" y="286" width="1" height="19" fill="#5c9acc"/>
<rect x="831" y="275" width="1" height="12" fill="#f42828"/><rect x="829" y="283" width="5" height="2" fill="#fa3838"/><rect x="830" y="284" width="4" height="1" fill="#dc4c4c"/><rect x="833" y="284" width="1" height="1" fill="#b02020"/>
<rect x="837" y="289" width="1" height="31" fill="#f42828"/><rect x="835" y="293" width="5" height="9" fill="#fa3838"/><rect x="836" y="294" width="4" height="8" fill="#dc4c4c"/><rect x="836" y="301" width="3" height="1" fill="#c43030"/><rect x="839" y="294" width="1" height="8" fill="#b02020"/>
<rect x="843" y="282" width="1" height="19" fill="#78bef4"/><rect x="841" y="290" width="5" height="2" fill="#b4f4fc"/><rect x="842" y="291" width="4" height="1" fill="#9ac6e0"/><rect x="845" y="291" width="1" height="1" fill="#5c9acc"/>
<rect x="849" y="259" width="1" height="30" fill="#78bef4"/><rect x="847" y="277" width="5" height="11" fill="#b4f4fc"/><rect x="848" y="278" width="4" height="10" fill="#9ac6e0"/><rect x="848" y="287" width="3" height="1" fill="#6aa4d0"/><rect x="851" y="278" width="1" height="10" fill="#5c9acc"/>
<rect x="855" y="272" width="1" height="35" fill="#f42828"/><rect x="853" y="273" width="5" height="32" fill="#fa3838"/><rect x="854" y="274" width="4" height="31" fill="#dc4c4c"/><rect x="854" y="304" width="3" height="1" fill="#c43030"/><rect x="857" y="274" width="1" height="31" fill="#b02020"/>
<rect x="861" y="290" width="1" height="23" fill="#78bef4"/><rect x="859" y="290" width="5" height="15" fill="#b4f4fc"/><rect x="860" y="291" width="4" height="14" fill="#9ac6e0"/><rect x="860" y="304" width="3" height="1" fill="#6aa4d0"/><rect x="863" y="291" width="1" height="14" fill="#5c9acc"/>
<rect x="867" y="275" width="1" height="30" fill="#78bef4"/><rect x="865" y="277" width="5" height="19" fill="#b4f4fc"/><rect x="866" y="278" width="4" height="18" fill="#9ac6e0"/><rect x="866" y="295" width="3" height="1" fill="#6aa4d0"/><rect x="869" y="278" width="1" height="18" fill="#5c9acc"/>
<rect x="873" y="264" width="1" height="25" fill="#f42828"/><rect x="871" y="274" width="5" height="3" fill="#fa3838"/><rect x="872" y="275" width="4" height="2" fill="#dc4c4c"/><rect x="875" y="275" width="1" height="2" fill="#b02020"/>
<rect x="879" y="238" width="1" height="91" fill="#f42828"/><rect x="877" y="243" width="5" height="20" fill="#fa3838"/><rect x="878" y="244" width="4" height="19" fill="#dc4c4c"/><rect x="878" y="262" width="3" height="1" fill="#c43030"/><rect x="881" y="244" width="1" height="19" fill="#b02020"/>
<rect x="885" y="254" width="1" height="14" fill="#78bef4"/><rect x="883" y="258" width="5" height="5" fill="#b4f4fc"/><rect x="884" y="259" width="4" height="4" fill="#9ac6e0"/><rect x="884" y="262" width="3" height="1" fill="#6aa4d0"/><rect x="887" y="259" width="1" height="4" fill="#5c9acc"/>
<rect x="891" y="224" width="1" height="37" fill="#78bef4"/><rect x="889" y="229" width="5" height="27" fill="#b4f4fc"/><rect x="890" y="230" width="4" height="26" fill="#9ac6e0"/><rect x="890" y="255" width="3" height="1" fill="#6aa4d0"/><rect x="893" y="230" width="1" height="26" fill="#5c9acc"/>
<rect x="897" y="202" width="1" height="37" fill="#78bef4"/><rect x="895" y="217" width="5" height="20" fill="#b4f4fc"/><rect x="896" y="218" width="4" height="19" fill="#9ac6e0"/><rect x="896" y="236" width="3" height="1" fill="#6aa4d0"/><rect x="899" y="218" width="1" height="19" fill="#5c9acc"/>
<rect x="903" y="199" width="1" height="25" fill="#78bef4"/><rect x="901" y="211" width="5" height="7" fill="#b4f4fc"/><rect x="902" y="212" width="4" height="6" fill="#9ac6e0"/><rect x="902" y="217" width="3" height="1" fill="#6aa4d0"/><rect x="905" y="212" width="1" height="6" fill="#5c9acc"/>
<rect x="909" y="209" width="1" height="19" fill="#f42828"/><rect x="907" y="214" width="5" height="5" fill="#fa3838"/><rect x="908" y="215" width="4" height="4" fill="#dc4c4c"/><rect x="908" y="218" width="3" height="1" fill="#c43030"/><rect x="911" y="215" width="1" height="4" fill="#b02020"/>
<rect x="915" y="209" width="1" height="12" fill="#f42828"/><rect x="913" y="217" width="5" height="2" fill="#fa3838"/><rect x="914" y="218" width="4" height="1" fill="#dc4c4c"/><rect x="917" y="218" width="1" height="1" fill="#b02020"/>
<rect x="921" y="213" width="1" height="39" fill="#f42828"/><rect x="919" y="220" width="5" height="16" fill="#fa3838"/><rect x="920" y="221" width="4" height="15" fill="#dc4c4c"/><rect x="920" y="235" width="3" height="1" fill="#c43030"/><rect x="923" y="221" width="1" height="15" fill="#b02020"/>
<rect x="927" y="217" width="1" height="23" fill="#f42828"/><rect x="925" y="231" width="5" height="5" fill="#fa3838"/><rect x="926" y="232" width="4" height="4" fill="#dc4c4c"/><rect x="926" y="235" width="3" height="1" fill="#c43030"/><rect x="929" y="232" width="1" height="4" fill="#b02020"/>
<rect x="933" y="245" width="1" height="20" fill="#f42828"/><rect x="931" y="248" width="5" height="3" fill="#fa3838"/><rect x="932" y="249" width="4" height="2" fill="#dc4c4c"/><rect x="935" y="249" width="1" height="2" fill="#b02020"/>
<rect x="939" y="244" width="1" height="21" fill="#78bef4"/><rect x="937" y="249" width="5" height="3" fill="#b4f4fc"/><rect x="938" y="250" width="4" height="2" fill="#9ac6e0"/><rect x="941" y="250" width="1" height="2" fill="#5c9acc"/>
<rect x="945" y="239" width="1" height="15" fill="#78bef4"/><rect x="943" y="242" width="5" height="5" fill="#b4f4fc"/><rect x="944" y="243" width="4" height="4" fill="#9ac6e0"/><rect x="944" y="246" width="3" height="1" fill="#6aa4d0"/><rect x="947" y="243" width="1" height="4" fill="#5c9acc"/>
<rect x="951" y="232" width="1" height="11" fill="#78bef4"/><rect x="949" y="235" width="5" height="5" fill="#b4f4fc"/><rect x="950" y="236" width="4" height="4" fill="#9ac6e0"/><rect x="950" y="239" width="3" height="1" fill="#6aa4d0"/><rect x="953" y="236" width="1" height="4" fill="#5c9acc"/>
<rect x="957" y="227" width="1" height="24" fill="#f42828"/><rect x="955" y="230" width="5" height="19" fill="#fa3838"/><rect x="956" y="231" width="4" height="18" fill="#dc4c4c"/><rect x="956" y="248" width="3" height="1" fill="#c43030"/><rect x="959" y="231" width="1" height="18" fill="#b02020"/>
<rect x="963" y="223" width="1" height="30" fill="#78bef4"/><rect x="961" y="224" width="5" height="26" fill="#b4f4fc"/><rect x="962" y="225" width="4" height="25" fill="#9ac6e0"/><rect x="962" y="249" width="3" height="1" fill="#6aa4d0"/><rect x="965" y="225" width="1" height="25" fill="#5c9acc"/>
<rect x="969" y="187" width="1" height="38" fill="#78bef4"/><rect x="967" y="191" width="5" height="32" fill="#b4f4fc"/><rect x="968" y="192" width="4" height="31" fill="#9ac6e0"/><rect x="968" y="222" width="3" height="1" fill="#6aa4d0"/><rect x="971" y="192" width="1" height="31" fill="#5c9acc"/>
<rect x="975" y="180" width="1" height="13" fill="#f42828"/><rect x="973" y="189" width="5" height="3" fill="#fa3838"/><rect x="974" y="190" width="4" height="2" fill="#dc4c4c"/><rect x="977" y="190" width="1" height="2" fill="#b02020"/>
<rect x="981" y="193" width="1" height="43" fill="#f42828"/><rect x="979" y="196" width="5" height="38" fill="#fa3838"/><rect x="980" y="197" width="4" height="37" fill="#dc4c4c"/><rect x="980" y="233" width="3" height="1" fill="#c43030"/><rect x="983" y="197" width="1" height="37" fill="#b02020"/>
<rect x="987" y="227" width="1" height="29" fill="#f42828"/><rect x="985" y="231" width="5" height="8" fill="#fa3838"/><rect x="986" y="232" width="4" height="7" fill="#dc4c4c"/><rect x="986" y="238" width="3" height="1" fill="#c43030"/><rect x="989" y="232" width="1" height="7" fill="#b02020"/>
<rect x="993" y="220" width="1" height="22" fill="#78bef4"/><rect x="991" y="221" width="5" height="16" fill="#b4f4fc"/><rect x="992" y="222" width="4" height="15" fill="#9ac6e0"/><rect x="992" y="236" width="3" height="1" fill="#6aa4d0"/><rect x="995" y="222" width="1" height="15" fill="#5c9acc"/>
<rect x="999" y="213" width="1" height="40" fill="#f42828"/><rect x="997" y="217" width="5" height="28" fill="#fa3838"/><rect x="998" y="218" width="4" height="27" fill="#dc4c4c"/><rect x="998" y="244" width="3" height="1" fill="#c43030"/><rect x="1001" y="218" width="1" height="27" fill="#b02020"/>
<rect x="1005" y="217" width="1" height="24" fill="#78bef4"/><rect x="1003" y="229" width="5" height="12" fill="#b4f4fc"/><rect x="1004" y="230" width="4" height="11" fill="#9ac6e0"/><rect x="1004" y="240" width="3" height="1" fill="#6aa4d0"/><rect x="1007" y="230" width="1" height="11" fill="#5c9acc"/>
<rect x="1011" y="214" width="1" height="30" fill="#f42828"/><rect x="1009" y="227" width="5" height="5" fill="#fa3838"/><rect x="1010" y="228" width="4" height="4" fill="#dc4c4c"/><rect x="1010" y="231" width="3" height="1" fill="#c43030"/><rect x="1013" y="228" width="1" height="4" fill="#b02020"/>
<rect x="1017" y="220" width="1" height="41" fill="#f42828"/><rect x="1015" y="231" width="5" height="25" fill="#fa3838"/><rect x="1016" y="232" width="4" height="24" fill="#dc4c4c"/><rect x="1016" y="255" width="3" height="1" fill="#c43030"/><rect x="1019" y="232" width="1" height="24" fill="#b02020"/>
<rect x="1023" y="236" width="1" height="27" fill="#78bef4"/><rect x="1021" y="238" width="5" height="16" fill="#b4f4fc"/><rect x="1022" y="239" width="4" height="15" fill="#9ac6e0"/><rect x="1022" y="253" width="3" height="1" fill="#6aa4d0"/><rect x="1025" y="239" width="1" height="15" fill="#5c9acc"/>
<rect x="1029" y="210" width="1" height="18" fill="#78bef4"/><rect x="1027" y="222" width="5" height="2" fill="#b4f4fc"/><rect x="1028" y="223" width="4" height="1" fill="#9ac6e0"/><rect x="1031" y="223" width="1" height="1" fill="#5c9acc"/>
<rect x="1035" y="190" width="1" height="39" fill="#78bef4"/><rect x="1033" y="196" width="5" height="27" fill="#b4f4fc"/><rect x="1034" y="197" width="4" height="26" fill="#9ac6e0"/><rect x="1034" y="222" width="3" height="1" fill="#6aa4d0"/><rect x="1037" y="197" width="1" height="26" fill="#5c9acc"/>
<rect x="1041" y="192" width="1" height="27" fill="#78bef4"/><rect x="1039" y="195" width="5" height="5" fill="#b4f4fc"/><rect x="1040" y="196" width="4" height="4" fill="#9ac6e0"/><rect x="1040" y="199" width="3" height="1" fill="#6aa4d0"/><rect x="1043" y="196" width="1" height="4" fill="#5c9acc"/>
<rect x="1047" y="192" width="1" height="57" fill="#f42828"/><rect x="1045" y="197" width="5" height="49" fill="#fa3838"/><rect x="1046" y="198" width="4" height="48" fill="#dc4c4c"/><rect x="1046" y="245" width="3" height="1" fill="#c43030"/><rect x="1049" y="198" width="1" height="48" fill="#b02020"/>
<rect x="1053" y="228" width="1" height="15" fill="#78bef4"/><rect x="1051" y="235" width="5" height="6" fill="#b4f4fc"/><rect x="1052" y="236" width="4" height="5" fill="#9ac6e0"/><rect x="1052" y="240" width="3" height="1" fill="#6aa4d0"/><rect x="1055" y="236" width="1" height="5" fill="#5c9acc"/>
<rect x="1059" y="223" width="1" height="28" fill="#f42828"/><rect x="1057" y="236" width="5" height="6" fill="#fa3838"/><rect x="1058" y="237" width="4" height="5" fill="#dc4c4c"/><rect x="1058" y="241" width="3" height="1" fill="#c43030"/><rect x="1061" y="237" width="1" height="5" fill="#b02020"/>
<rect x="1065" y="240" width="1" height="44" fill="#f42828"/><rect x="1063" y="241" width="5" height="41" fill="#fa3838"/><rect x="1064" y="242" width="4" height="40" fill="#dc4c4c"/><rect x="1064" y="281" width="3" height="1" fill="#c43030"/><rect x="1067" y="242" width="1" height="40" fill="#b02020"/>
<rect x="1071" y="268" width="1" height="28" fill="#78bef4"/><rect x="1069" y="284" width="5" height="6" fill="#b4f4fc"/><rect x="1070" y="285" width="4" height="5" fill="#9ac6e0"/><rect x="1070" y="289" width="3" height="1" fill="#6aa4d0"/><rect x="1073" y="285" width="1" height="5" fill="#5c9acc"/>
<rect x="1077" y="265" width="1" height="28" fill="#f42828"/><rect x="1075" y="279" width="5" height="9" fill="#fa3838"/><rect x="1076" y="280" width="4" height="8" fill="#dc4c4c"/><rect x="1076" y="287" width="3" height="1" fill="#c43030"/><rect x="1079" y="280" width="1" height="8" fill="#b02020"/>
<rect x="1083" y="258" width="1" height="39" fill="#78bef4"/><rect x="1081" y="267" width="5" height="30" fill="#b4f4fc"/><rect x="1082" y="268" width="4" height="29" fill="#9ac6e0"/><rect x="1082" y="296" width="3" height="1" fill="#6aa4d0"/><rect x="1085" y="268" width="1" height="29" fill="#5c9acc"/>
<rect x="1089" y="247" width="1" height="32" fill="#78bef4"/><rect x="1087" y="256" width="5" height="20" fill="#b4f4fc"/><rect x="1088" y="257" width="4" height="19" fill="#9ac6e0"/><rect x="1088" y="275" width="3" height="1" fill="#6aa4d0"/><rect x="1091" y="257" width="1" height="19" fill="#5c9acc"/>
<rect x="1095" y="256" width="1" height="26" fill="#f42828"/><rect x="1093" y="257" width="5" height="18" fill="#fa3838"/><rect x="1094" y="258" width="4" height="17" fill="#dc4c4c"/><rect x="1094" y="274" width="3" height="1" fill="#c43030"/><rect x="1097" y="258" width="1" height="17" fill="#b02020"/>
<rect x="1101" y="265" width="1" height="20" fill="#78bef4"/><rect x="1099" y="276" width="5" height="3" fill="#b4f4fc"/><rect x="1100" y="277" width="4" height="2" fill="#9ac6e0"/><rect x="1103" y="277" width="1" height="2" fill="#5c9acc"/>
<rect x="1107" y="276" width="1" height="17" fill="#f42828"/><rect x="1105" y="283" width="5" height="6" fill="#fa3838"/><rect x="1106" y="284" width="4" height="5" fill="#dc4c4c"/><rect x="1106" y="288" width="3" height="1" fill="#c43030"/><rect x="1109" y="284" width="1" height="5" fill="#b02020"/>
<rect x="1113" y="279" width="1" height="18" fill="#78bef4"/><rect x="1111" y="285" width="5" height="2" fill="#b4f4fc"/><rect x="1112" y="286" width="4" height="1" fill="#9ac6e0"/><rect x="1115" y="286" width="1" height="1" fill="#5c9acc"/>
<rect x="1119" y="283" width="1" height="17" fill="#f42828"/><rect x="1117" y="288" width="5" height="6" fill="#fa3838"/><rect x="1118" y="289" width="4" height="5" fill="#dc4c4c"/><rect x="1118" y="293" width="3" height="1" fill="#c43030"/><rect x="1121" y="289" width="1" height="5" fill="#b02020"/>
<rect x="1125" y="246" width="1" height="45" fill="#78bef4"/><rect x="1123" y="248" width="5" height="43" fill="#b4f4fc"/><rect x="1124" y="249" width="4" height="42" fill="#9ac6e0"/><rect x="1124" y="290" width="3" height="1" fill="#6aa4d0"/><rect x="1127" y="249" width="1" height="42" fill="#5c9acc"/>
<rect x="1131" y="222" width="1" height="23" fill="#78bef4"/><rect x="1129" y="231" width="5" height="11" fill="#b4f4fc"/><rect x="1130" y="232" width="4" height="10" fill="#9ac6e0"/><rect x="1130" y="241" width="3" height="1" fill="#6aa4d0"/><rect x="1133" y="232" width="1" height="10" fill="#5c9acc"/>
<rect x="1137" y="225" width="1" height="21" fill="#78bef4"/><rect x="1135" y="232" width="5" height="7" fill="#b4f4fc"/><rect x="1136" y="233" width="4" height="6" fill="#9ac6e0"/><rect x="1136" y="238" width="3" height="1" fill="#6aa4d0"/><rect x="1139" y="233" width="1" height="6" fill="#5c9acc"/>
<rect x="1143" y="236" width="1" height="38" fill="#78bef4"/><rect x="1141" y="241" width="5" height="30" fill="#b4f4fc"/><rect x="1142" y="242" width="4" height="29" fill="#9ac6e0"/><rect x="1142" y="270" width="3" height="1" fill="#6aa4d0"/><rect x="1145" y="242" width="1" height="29" fill="#5c9acc"/>
<rect x="1149" y="181" width="1" height="45" fill="#78bef4"/><rect x="1147" y="183" width="5" height="36" fill="#b4f4fc"/><rect x="1148" y="184" width="4" height="35" fill="#9ac6e0"/><rect x="1148" y="218" width="3" height="1" fill="#6aa4d0"/><rect x="1151" y="184" width="1" height="35" fill="#5c9acc"/>
<rect x="1155" y="151" width="1" height="35" fill="#f42828"/><rect x="1153" y="172" width="5" height="5" fill="#fa3838"/><rect x="1154" y="173" width="4" height="4" fill="#dc4c4c"/><rect x="1154" y="176" width="3" height="1" fill="#c43030"/><rect x="1157" y="173" width="1" height="4" fill="#b02020"/>
<rect x="1161" y="153" width="1" height="25" fill="#78bef4"/><rect x="1159" y="168" width="5" height="10" fill="#b4f4fc"/><rect x="1160" y="169" width="4" height="9" fill="#9ac6e0"/><rect x="1160" y="177" width="3" height="1" fill="#6aa4d0"/><rect x="1163" y="169" width="1" height="9" fill="#5c9acc"/>
<rect x="1167" y="164" width="1" height="34" fill="#f42828"/><rect x="1165" y="169" width="5" height="27" fill="#fa3838"/><rect x="1166" y="170" width="4" height="26" fill="#dc4c4c"/><rect x="1166" y="195" width="3" height="1" fill="#c43030"/><rect x="1169" y="170" width="1" height="26" fill="#b02020"/>
<rect x="1173" y="161" width="1" height="20" fill="#78bef4"/><rect x="1171" y="164" width="5" height="13" fill="#b4f4fc"/><rect x="1172" y="165" width="4" height="12" fill="#9ac6e0"/><rect x="1172" y="176" width="3" height="1" fill="#6aa4d0"/><rect x="1175" y="165" width="1" height="12" fill="#5c9acc"/>
<rect x="1179" y="158" width="1" height="21" fill="#78bef4"/><rect x="1177" y="163" width="5" height="2" fill="#b4f4fc"/><rect x="1178" y="164" width="4" height="1" fill="#9ac6e0"/><rect x="1181" y="164" width="1" height="1" fill="#5c9acc"/>
</g>
<g clip-path="url(#plot)" stroke="#eeeee2" stroke-width="1.12" fill="none" stroke-linecap="butt">
<line x1="300.5" y1="215.4" x2="612.6" y2="606.4"/>
<line x1="300.50" y1="215.40" x2="1400.00" y2="-426.27"/>
<line x1="339.51" y1="264.27" x2="1400.00" y2="-354.63"/>
<line x1="378.52" y1="313.15" x2="1400.00" y2="-282.98"/>
<line x1="417.54" y1="362.02" x2="1400.00" y2="-211.34"/>
<line x1="177.60" y1="573.30" x2="1400.00" y2="-140.09"/>
<line x1="495.56" y1="459.77" x2="1400.00" y2="-68.05"/>
<line x1="534.58" y1="508.65" x2="1400.00" y2="3.59"/>
<line x1="573.59" y1="557.52" x2="1400.00" y2="75.23"/>
<line x1="612.60" y1="606.40" x2="1400.00" y2="146.87"/>
</g>
<g shape-rendering="crispEdges">
<rect x="1356" y="0" width="1" height="632" fill="#8c8c72"/>
<rect x="1362" y="0" width="1" height="632" fill="#c4c4a2"/>
<rect x="1359" y="3" width="4" height="1" fill="#c8c8a6"/>
<rect x="1359" y="12" width="4" height="1" fill="#c8c8a6"/>
<rect x="1359" y="21" width="4" height="1" fill="#c8c8a6"/>
<rect x="1359" y="29" width="4" height="1" fill="#c8c8a6"/>
<rect x="1356" y="38" width="7" height="1" fill="#c8c8a6"/>
<rect x="1359" y="47" width="4" height="1" fill="#c8c8a6"/>
<rect x="1359" y="56" width="4" height="1" fill="#c8c8a6"/>
<rect x="1359" y="65" width="4" height="1" fill="#c8c8a6"/>
<rect x="1359" y="74" width="4" height="1" fill="#c8c8a6"/>
<rect x="1356" y="82" width="7" height="1" fill="#c8c8a6"/>
<rect x="1359" y="91" width="4" height="1" fill="#c8c8a6"/>
<rect x="1359" y="100" width="4" height="1" fill="#c8c8a6"/>
<rect x="1359" y="109" width="4" height="1" fill="#c8c8a6"/>
<rect x="1359" y="118" width="4" height="1" fill="#c8c8a6"/>
<rect x="1356" y="127" width="7" height="1" fill="#c8c8a6"/>
<rect x="1359" y="135" width="4" height="1" fill="#c8c8a6"/>
<rect x="1359" y="144" width="4" height="1" fill="#c8c8a6"/>
<rect x="1359" y="153" width="4" height="1" fill="#c8c8a6"/>
<rect x="1359" y="162" width="4" height="1" fill="#c8c8a6"/>
<rect x="1356" y="171" width="7" height="1" fill="#c8c8a6"/>
<rect x="1359" y="180" width="4" height="1" fill="#c8c8a6"/>
<rect x="1359" y="188" width="4" height="1" fill="#c8c8a6"/>
<rect x="1359" y="197" width="4" height="1" fill="#c8c8a6"/>
<rect x="1359" y="206" width="4" height="1" fill="#c8c8a6"/>
<rect x="1356" y="215" width="7" height="1" fill="#c8c8a6"/>
<rect x="1359" y="224" width="4" height="1" fill="#c8c8a6"/>
<rect x="1359" y="233" width="4" height="1" fill="#c8c8a6"/>
<rect x="1359" y="241" width="4" height="1" fill="#c8c8a6"/>
<rect x="1359" y="250" width="4" height="1" fill="#c8c8a6"/>
<rect x="1356" y="259" width="7" height="1" fill="#c8c8a6"/>
<rect x="1359" y="268" width="4" height="1" fill="#c8c8a6"/>
<rect x="1359" y="277" width="4" height="1" fill="#c8c8a6"/>
<rect x="1359" y="285" width="4" height="1" fill="#c8c8a6"/>
<rect x="1359" y="294" width="4" height="1" fill="#c8c8a6"/>
<rect x="1356" y="303" width="7" height="1" fill="#c8c8a6"/>
<rect x="1359" y="312" width="4" height="1" fill="#c8c8a6"/>
<rect x="1359" y="321" width="4" height="1" fill="#c8c8a6"/>
<rect x="1359" y="330" width="4" height="1" fill="#c8c8a6"/>
<rect x="1359" y="338" width="4" height="1" fill="#c8c8a6"/>
<rect x="1356" y="347" width="7" height="1" fill="#c8c8a6"/>
<rect x="1359" y="356" width="4" height="1" fill="#c8c8a6"/>
<rect x="1359" y="365" width="4" height="1" fill="#c8c8a6"/>
<rect x="1359" y="374" width="4" height="1" fill="#c8c8a6"/>
<rect x="1359" y="383" width="4" height="1" fill="#c8c8a6"/>
<rect x="1356" y="391" width="7" height="1" fill="#c8c8a6"/>
<rect x="1359" y="400" width="4" height="1" fill="#c8c8a6"/>
<rect x="1359" y="409" width="4" height="1" fill="#c8c8a6"/>
<rect x="1359" y="418" width="4" height="1" fill="#c8c8a6"/>
<rect x="1359" y="427" width="4" height="1" fill="#c8c8a6"/>
<rect x="1356" y="436" width="7" height="1" fill="#c8c8a6"/>
<rect x="1359" y="444" width="4" height="1" fill="#c8c8a6"/>
<rect x="1359" y="453" width="4" height="1" fill="#c8c8a6"/>
<rect x="1359" y="462" width="4" height="1" fill="#c8c8a6"/>
<rect x="1359" y="471" width="4" height="1" fill="#c8c8a6"/>
<rect x="1356" y="480" width="7" height="1" fill="#c8c8a6"/>
<rect x="1359" y="489" width="4" height="1" fill="#c8c8a6"/>
<rect x="1359" y="497" width="4" height="1" fill="#c8c8a6"/>
<rect x="1359" y="506" width="4" height="1" fill="#c8c8a6"/>
<rect x="1359" y="515" width="4" height="1" fill="#c8c8a6"/>
<rect x="1356" y="524" width="7" height="1" fill="#c8c8a6"/>
<rect x="1359" y="533" width="4" height="1" fill="#c8c8a6"/>
<rect x="1359" y="541" width="4" height="1" fill="#c8c8a6"/>
<rect x="1359" y="550" width="4" height="1" fill="#c8c8a6"/>
<rect x="1359" y="559" width="4" height="1" fill="#c8c8a6"/>
<rect x="1356" y="568" width="7" height="1" fill="#c8c8a6"/>
<rect x="1359" y="577" width="4" height="1" fill="#c8c8a6"/>
<rect x="1359" y="586" width="4" height="1" fill="#c8c8a6"/>
<rect x="1359" y="594" width="4" height="1" fill="#c8c8a6"/>
<rect x="1359" y="603" width="4" height="1" fill="#c8c8a6"/>
<rect x="1356" y="612" width="7" height="1" fill="#c8c8a6"/>
<rect x="1359" y="621" width="4" height="1" fill="#c8c8a6"/>
<rect x="1359" y="630" width="4" height="1" fill="#c8c8a6"/>
</g>
<text class="t" x="1365.7" y="43" fill="#d6d6b0">62500.0</text>
<text class="t" x="1365.7" y="87" fill="#d6d6b0">60000.0</text>
<text class="t" x="1365.7" y="132" fill="#d6d6b0">57500.0</text>
<text class="t" x="1365.7" y="176" fill="#d6d6b0">55000.0</text>
<text class="t" x="1365.7" y="220" fill="#d6d6b0">52500.0</text>
<text class="t" x="1365.7" y="264" fill="#d6d6b0">50000.0</text>
<text class="t" x="1365.7" y="308" fill="#d6d6b0">47500.0</text>
<text class="t" x="1365.7" y="352" fill="#d6d6b0">45000.0</text>
<text class="t" x="1365.7" y="396" fill="#d6d6b0">42500.0</text>
<text class="t" x="1365.7" y="441" fill="#d6d6b0">40000.0</text>
<text class="t" x="1365.7" y="485" fill="#d6d6b0">37500.0</text>
<text class="t" x="1365.7" y="529" fill="#d6d6b0">35000.0</text>
<text class="t" x="1365.7" y="573" fill="#d6d6b0">32500.0</text>
<text class="t" x="1365.7" y="617" fill="#d6d6b0">30000.0</text>
<path d="M1357.3 61.5 L1363 54.6 L1412 54.6 L1412 68.2 L1363 68.2 Z" fill="url(#gw)" stroke="#2a2a2a" stroke-width="0.8"/>
<text class="t" x="1365.7" y="66" fill="#000">61211.6</text>
<path d="M1357.3 164.5 L1363 157.6 L1412 157.6 L1412 171.2 L1363 171.2 Z" fill="url(#gy)" stroke="#2a2a2a" stroke-width="0.8"/>
<text class="t" x="1365.7" y="169" fill="#000">55398.2</text>
<g fill="#e2e2e2">
<rect x="1311" y="2.7" width="9.5" height="3"/>
<path d="M1323.3 4.1 L1317.5 -1.7 L1315.7 0.1 L1319.7 4.1 L1315.7 8.1 L1317.5 9.9 Z"/>
<rect x="1330.9" y="-1" width="3" height="9"/>
<path d="M1332.35 10 L1326.2 3.9 L1328.05 2.1 L1332.35 6.4 L1336.6 2.1 L1338.45 3.9 Z"/>
<rect x="1345.05" y="-1" width="4" height="10.8"/>
<path d="M1347.05 -2.6 L1341.0 3.5 L1342.85 5.35 L1347.05 1.1 L1351.25 5.35 L1353.1 3.5 Z"/>
</g>
</svg>
</body></html>
